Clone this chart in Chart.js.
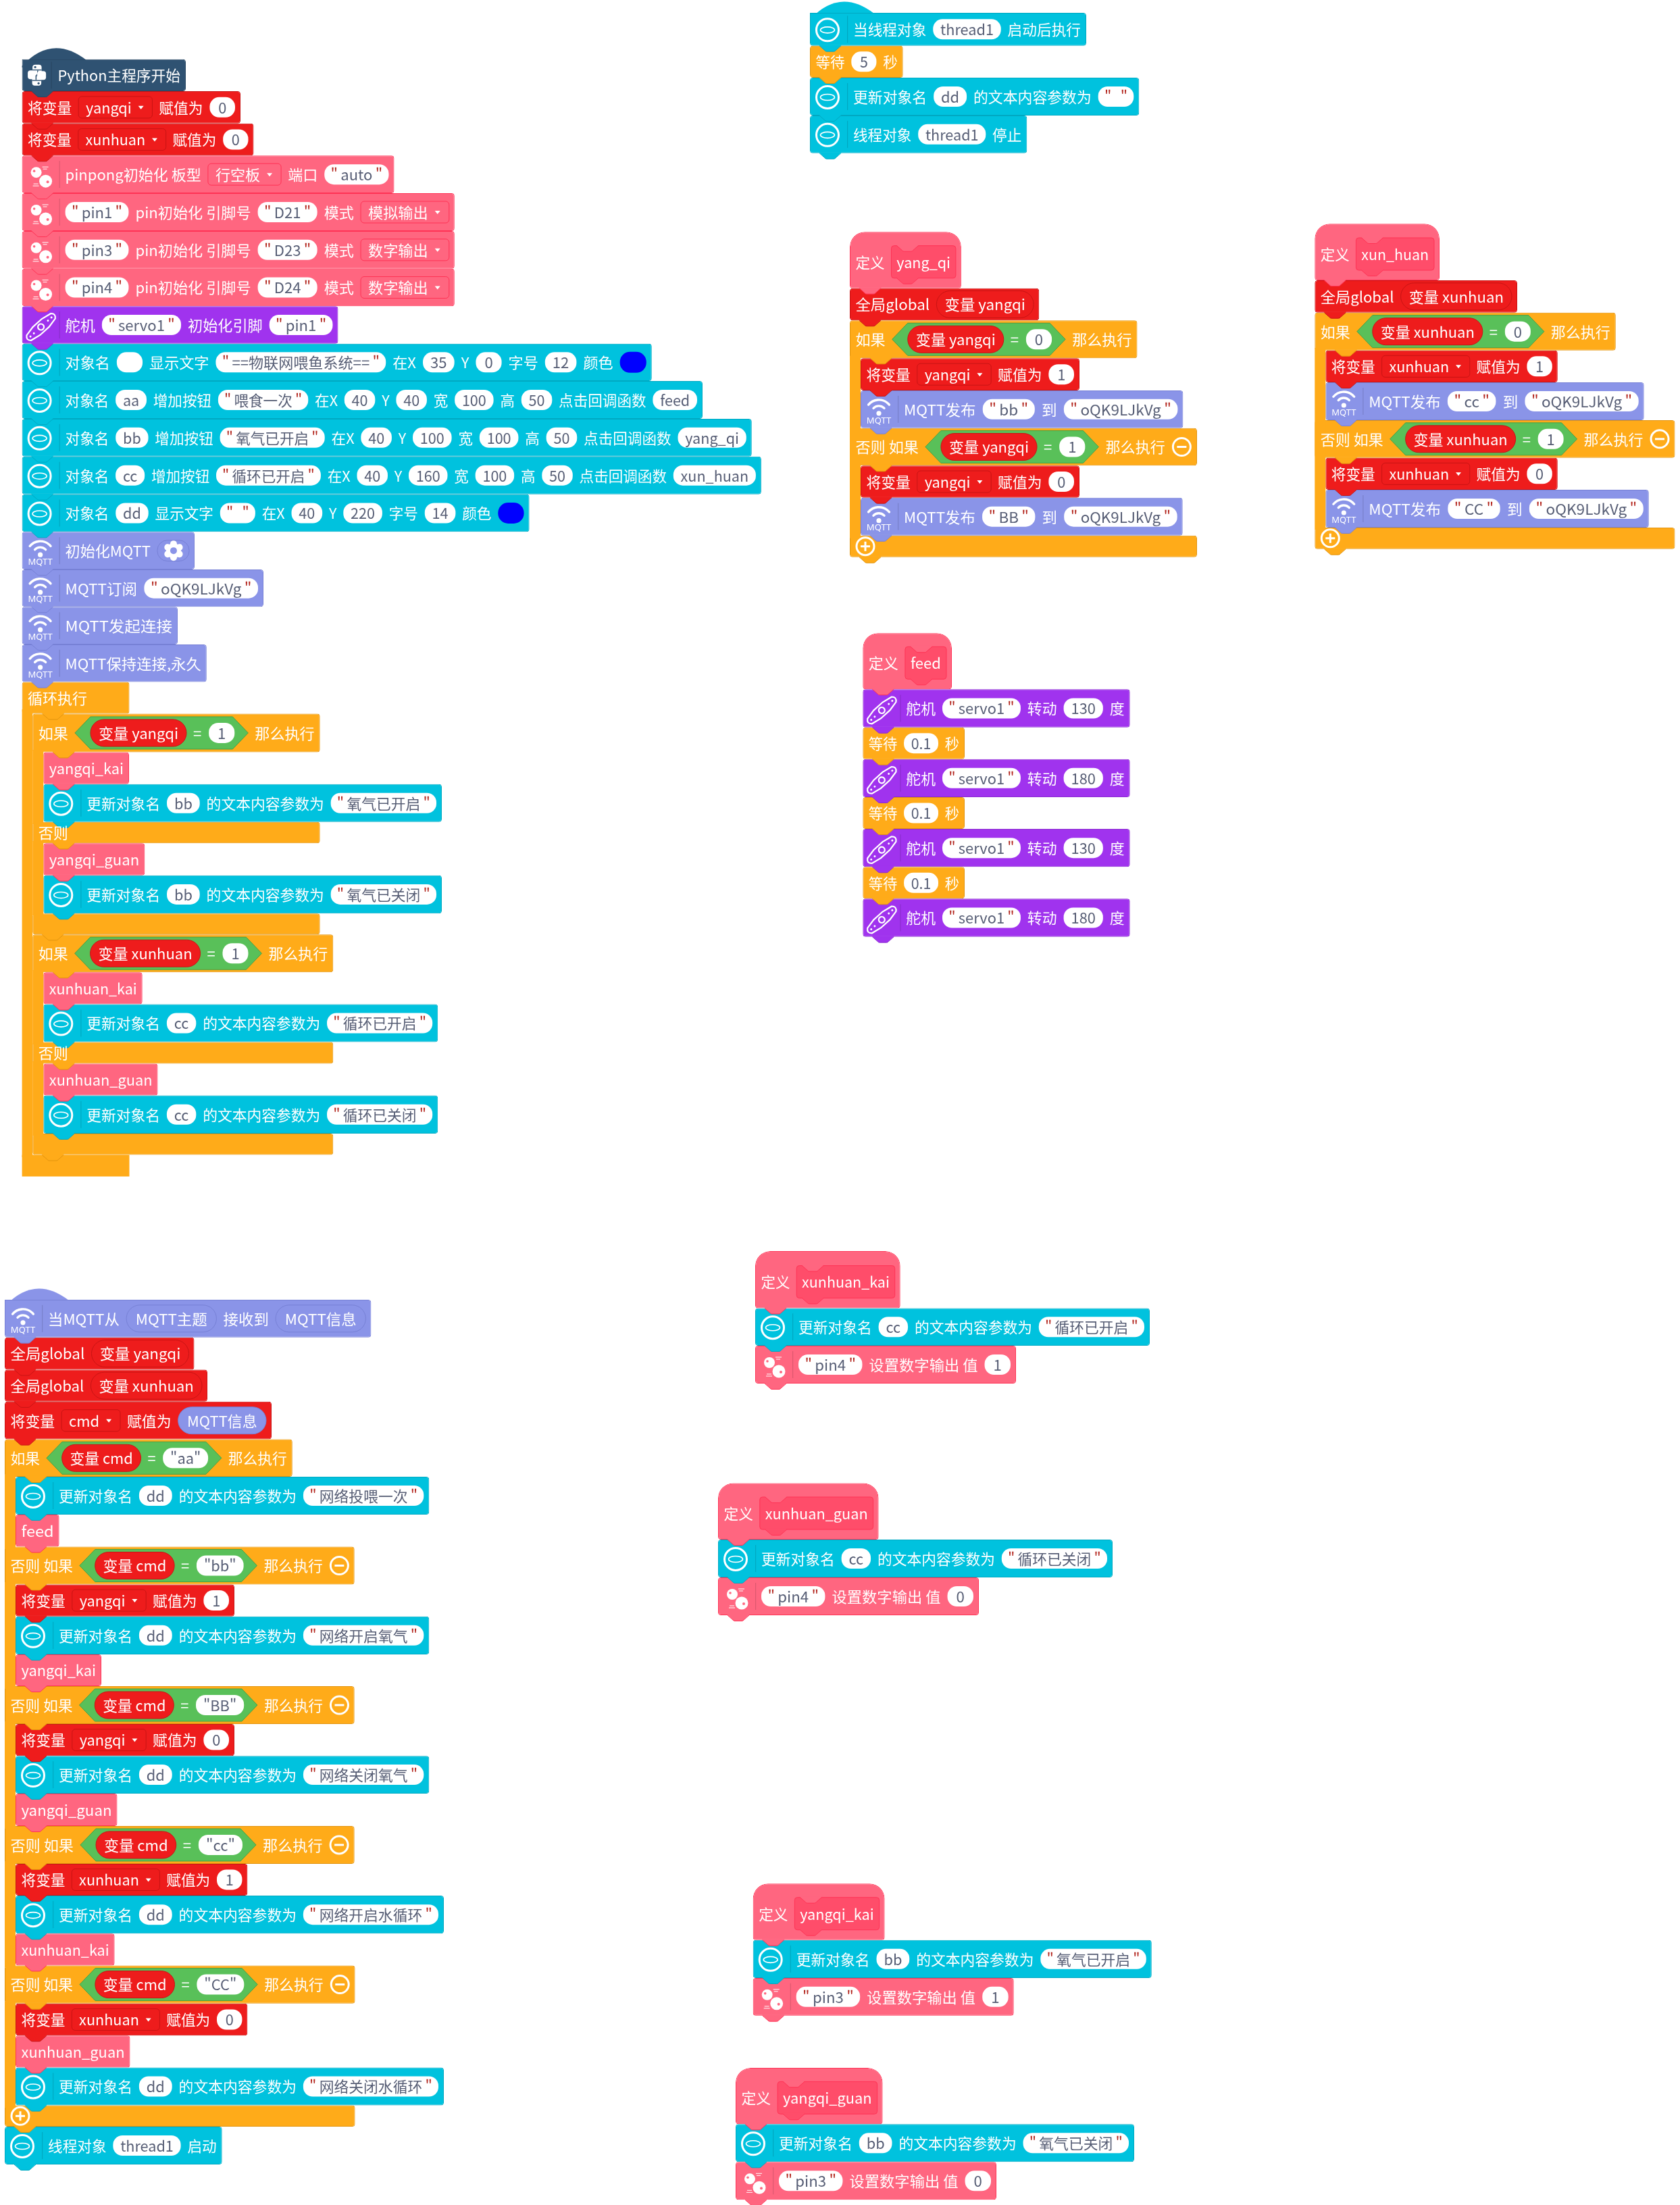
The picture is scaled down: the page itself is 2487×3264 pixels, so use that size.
<!DOCTYPE html>
<html lang="zh">
<head>
<meta charset="utf-8">
<title>Blocks</title>
<script src="https://cdn.jsdelivr.net/npm/chart.js@4/dist/chart.umd.min.js"></script>
<style>
  html, body { margin: 0; padding: 0; background: #fff; }
  canvas { display: block; }
</style>
</head>
<body>
<canvas id="blocksChart" width="2487" height="3264"></canvas>
<script>
// ===== DATA: one entry per block, stack by stack =====
const blockKinds = [
  // main program
  'python','red','red','pink','pink','pink','pink','purple','cyan','cyan','cyan','cyan','cyan','mqtt','mqtt','mqtt','mqtt',
  'open','control','pink','cyan','open','pink','cyan','open','control','pink','cyan','open','pink','cyan','open','arm',
  'arm','arm','arm','arm','arm',
  // thread
  'cyanHat','control','cyan','cyan',
  // yang_qi
  'define','red','control','red','mqtt','control','red','mqtt','open','arm',
  // xun_huan
  'define','red','control','red','mqtt','control','red','mqtt','open','arm',
  // feed
  'define','purple','control','purple','control','purple','control','purple',
  // mqtt callback
  'mqttHat','red','red','red','control','cyan','pink','control','red','cyan','pink','control','red','cyan','pink',
  'control','red','cyan','pink','control','red','pink','cyan','open','cyan','arm','arm','arm','arm','arm',
  // xunhuan_kai, xunhuan_guan, yangqi_kai, yangqi_guan
  'define','cyan','pink','define','cyan','pink','define','cyan','pink','define','cyan','pink'
];

const blockLabels = [
  '#|Python主程序开始',
  '将变量|[yangqi]|赋值为|(0)',
  '将变量|[xunhuan]|赋值为|(0)',
  '#|pinpong初始化 板型|[行空板]|端口|("auto")',
  '#|("pin1")|pin初始化 引脚号|("D21")|模式|[模拟输出]',
  '#|("pin3")|pin初始化 引脚号|("D23")|模式|[数字输出]',
  '#|("pin4")|pin初始化 引脚号|("D24")|模式|[数字输出]',
  '#|舵机|("servo1")|初始化引脚|("pin1")',
  '#|对象名|()|显示文字|("==物联网喂鱼系统==")|在X|(35)|Y|(0)|字号|(12)|颜色|%',
  '#|对象名|(aa)|增加按钮|("喂食一次")|在X|(40)|Y|(40)|宽|(100)|高|(50)|点击回调函数|(feed)',
  '#|对象名|(bb)|增加按钮|("氧气已开启")|在X|(40)|Y|(100)|宽|(100)|高|(50)|点击回调函数|(yang_qi)',
  '#|对象名|(cc)|增加按钮|("循环已开启")|在X|(40)|Y|(160)|宽|(100)|高|(50)|点击回调函数|(xun_huan)',
  '#|对象名|(dd)|显示文字|(" ")|在X|(40)|Y|(220)|字号|(14)|颜色|%',
  '#|初始化MQTT|*',
  '#|MQTT订阅|("oQK9LJkVg")',
  '#|MQTT发起连接',
  '#|MQTT保持连接,永久',
  '循环执行',
  '如果|{yangqi=1}|那么执行',
  'yangqi_kai',
  '#|更新对象名|(bb)|的文本内容参数为|("氧气已开启")',
  '否则',
  'yangqi_guan',
  '#|更新对象名|(bb)|的文本内容参数为|("氧气已关闭")',
  '',
  '如果|{xunhuan=1}|那么执行',
  'xunhuan_kai',
  '#|更新对象名|(cc)|的文本内容参数为|("循环已开启")',
  '否则',
  'xunhuan_guan',
  '#|更新对象名|(cc)|的文本内容参数为|("循环已关闭")',
  '',
  '',
  '','','','','',

  '#|当线程对象|(thread1)|启动后执行',
  '等待|(5)|秒',
  '#|更新对象名|(dd)|的文本内容参数为|(" ")',
  '#|线程对象|(thread1)|停止',

  '定义|^yang_qi',
  '全局global|<变量 yangqi>',
  '如果|{yangqi=0}|那么执行',
  '将变量|[yangqi]|赋值为|(1)',
  '#|MQTT发布|("bb")|到|("oQK9LJkVg")',
  '否则 如果|{yangqi=1}|那么执行|-',
  '将变量|[yangqi]|赋值为|(0)',
  '#|MQTT发布|("BB")|到|("oQK9LJkVg")',
  '+',
  '',

  '定义|^xun_huan',
  '全局global|<变量 xunhuan>',
  '如果|{xunhuan=0}|那么执行',
  '将变量|[xunhuan]|赋值为|(1)',
  '#|MQTT发布|("cc")|到|("oQK9LJkVg")',
  '否则 如果|{xunhuan=1}|那么执行|-',
  '将变量|[xunhuan]|赋值为|(0)',
  '#|MQTT发布|("CC")|到|("oQK9LJkVg")',
  '+',
  '',

  '定义|^feed',
  '#|舵机|("servo1")|转动|(130)|度',
  '等待|(0.1)|秒',
  '#|舵机|("servo1")|转动|(180)|度',
  '等待|(0.1)|秒',
  '#|舵机|("servo1")|转动|(130)|度',
  '等待|(0.1)|秒',
  '#|舵机|("servo1")|转动|(180)|度',

  '#|当MQTT从|@MQTT主题|接收到|@MQTT信息',
  '全局global|<变量 yangqi>',
  '全局global|<变量 xunhuan>',
  '将变量|[cmd]|赋值为|@MQTT信息',
  '如果|{cmd="aa"}|那么执行',
  '#|更新对象名|(dd)|的文本内容参数为|("网络投喂一次")',
  'feed',
  '否则 如果|{cmd="bb"}|那么执行|-',
  '将变量|[yangqi]|赋值为|(1)',
  '#|更新对象名|(dd)|的文本内容参数为|("网络开启氧气")',
  'yangqi_kai',
  '否则 如果|{cmd="BB"}|那么执行|-',
  '将变量|[yangqi]|赋值为|(0)',
  '#|更新对象名|(dd)|的文本内容参数为|("网络关闭氧气")',
  'yangqi_guan',
  '否则 如果|{cmd="cc"}|那么执行|-',
  '将变量|[xunhuan]|赋值为|(1)',
  '#|更新对象名|(dd)|的文本内容参数为|("网络开启水循环")',
  'xunhuan_kai',
  '否则 如果|{cmd="CC"}|那么执行|-',
  '将变量|[xunhuan]|赋值为|(0)',
  'xunhuan_guan',
  '#|更新对象名|(dd)|的文本内容参数为|("网络关闭水循环")',
  '+',
  '#|线程对象|(thread1)|启动',
  '','','','','',

  '定义|^xunhuan_kai',
  '#|更新对象名|(cc)|的文本内容参数为|("循环已开启")',
  '#|("pin4")|设置数字输出 值|(1)',
  '定义|^xunhuan_guan',
  '#|更新对象名|(cc)|的文本内容参数为|("循环已关闭")',
  '#|("pin4")|设置数字输出 值|(0)',
  '定义|^yangqi_kai',
  '#|更新对象名|(bb)|的文本内容参数为|("氧气已开启")',
  '#|("pin3")|设置数字输出 值|(1)',
  '定义|^yangqi_guan',
  '#|更新对象名|(bb)|的文本内容参数为|("氧气已关闭")',
  '#|("pin3")|设置数字输出 值|(0)'
];

const blockLeft = [
  32.6,32.6,32.6,32.6,32.6,32.6,32.6,32.6,32.6,32.6,32.6,32.6,32.6,32.6,32.6,32.6,32.6,
  32.6,48.2,64.3,64.3,48.2,64.3,64.3,48.2,48.2,64.3,64.3,48.2,64.3,64.3,48.2,32.6,
  32.6,48.2,48.2,48.2,48.2,
  1199,1199,1199,1199,
  1258,1258,1258,1274,1274,1258,1274,1274,1258,1258,
  1946.3,1946.3,1946.3,1962.3,1962.3,1946.3,1962.3,1962.3,1946.3,1946.3,
  1277.3,1277.3,1277.3,1277.3,1277.3,1277.3,1277.3,1277.3,
  7,7,7,7,7,23,23,7,23,23,23,7,23,23,23,7,23,23,23,7,23,23,23,7,7,7,7,7,7,7,
  1118,1118,1118,1063,1063,1063,1114.7,1114.7,1114.7,1089,1089,1089
];

const blockRight = [
  275,356,375.5,583.5,672.8,672.8,672.8,500.5,964.8,1040,1112.8,1126.9,783.6,288,390,263,305.8,
  191.5,473.7,191,654,473.7,214.3,654,473.7,493.3,210.7,648.2,493.3,233.5,648.2,493.3,191.5,
  48.2,64.3,64.3,64.3,64.3,
  1608,1336.7,1686.3,1520.3,
  1422.9,1538.2,1683.5,1598,1751.4,1772,1598,1750.7,1772,1274,
  2131,2246,2391.8,2305.8,2433.7,2479.5,2305.8,2440.8,2479.5,1962.3,
  1409,1672.7,1428,1672.7,1428,1672.7,1428,1672.7,
  549.4,287.5,307,402,432.8,635.3,87.6,524.7,347,635.3,150,524.7,347,635.3,173.5,524.7,366.4,657,169.6,525.6,366.4,192.5,657,525.6,328.7,23,23,23,23,23,
  1332.7,1702,1504,1300.6,1647,1449,1309.6,1704.8,1500.7,1306.6,1679,1475
];

const blockTop = [
  87.7,135,182.7,230.3,286,342,397.7,453.3,508.7,564,620,675.7,731.7,787.3,843,898.3,954,
  1009.6,1056.5,1113.4,1160.8,1216.7,1248.3,1295.7,1352.2,1383.3,1439.2,1486.6,1542.6,1574.6,1621.5,1678,1709.6,
  1050,1110,1245,1436,1571,
  19,67.7,115,171,
  343.3,426.7,474.3,530.3,578,633.7,689.3,736.7,792.7,527,
  331.3,415,462.7,518.7,566,622,677.7,725,781,515,
  937.3,1020.3,1076.7,1123.7,1180,1227,1283.3,1330.3,
  1924,1979.7,2027.5,2074.8,2130.6,2186,2242,2289.6,2345.4,2392.7,2449,2496,2552,2599.2,2655,2703,2758.9,2806,2862.3,2909.4,2965.7,3013.3,3060.4,3116.6,3148,
  2183,2342,2549,2756,2963,
  1852,1936.5,1992,2195.5,2279,2335,2788.3,2871.7,2928,3061,3144.3,3200.3
];

const blockBottom = [
  135,182.7,230.3,286,342,397.7,453.3,508.7,564,620,675.7,731.7,787.3,843,898.3,954,1009.6,
  1056.5,1113.4,1160.8,1216.7,1248.3,1295.7,1352.2,1383.3,1439.2,1486.6,1542.6,1574.6,1621.5,1678,1709.6,1741.6,
  1713,1220,1355,1546,1681,
  67.7,115,171,226.7,
  426.7,474.3,530.3,578,633.7,689.3,736.7,792.7,824.7,796,
  415,462.7,518.7,566,622,677.7,725,781,812.7,784,
  1020.3,1076.7,1123.7,1180,1227,1283.3,1330.3,1386.7,
  1979.7,2027.5,2074.8,2130.6,2186,2242,2289.6,2345.4,2392.7,2449,2496,2552,2599.2,2655,2703,2758.9,2806,2862.3,2909.4,2965.7,3013.3,3060.4,3116.6,3148,3204,
  2293,2499,2706,2912,3120,
  1936.5,1992,2048,2279,2335,2391,2871.7,2928,2983.7,3144.3,3200.3,3256.3
];

// ===== COLOURS =====
const palette = {
  python:  { fill: '#2F5272', line: '#2a4863' },
  red:     { fill: '#EE1C1C', line: '#C81414' },
  pink:    { fill: '#FF6680', line: '#FF3355' },
  define:  { fill: '#FF6680', line: '#FF3355' },
  purple:  { fill: '#A033EE', line: '#8A2BD0' },
  cyan:    { fill: '#00C2DE', line: '#00A9C2' },
  cyanHat: { fill: '#00C2DE', line: '#00A9C2' },
  mqtt:    { fill: '#8A94E8', line: '#7781D6' },
  mqttHat: { fill: '#8A94E8', line: '#7781D6' },
  control: { fill: '#FFAB19', line: '#E2940F' },
  open:    { fill: '#FFAB19', line: '#E2940F' },
  arm:     { fill: '#FFAB19', line: '#FFAB19' }
};
const PILL_TEXT = '#575E75';
const FONT = '22px "Noto Sans CJK SC", "Noto Sans", sans-serif';
const SEG_GAP = 10;

function fitsToWidth(kind) { return kind !== 'open' && kind !== 'arm'; }
function hasHatArc(kind) { return kind === 'python' || kind === 'cyanHat' || kind === 'mqttHat'; }

function centerY(i) {
  if (blockKinds[i] === 'define') return blockBottom[i] - 39;
  return (blockTop[i] + blockBottom[i]) / 2;
}

// ===== SEGMENT WIDTHS =====
function quotedParts(inner) {
  return inner.length > 1 && inner[0] === '"' ? inner.slice(1, -1) : null;
}

function boolParts(seg) {
  const body = seg.slice(1, -1);
  const at = body.indexOf('=');
  return { name: '变量 ' + body.slice(0, at), value: body.slice(at + 1) };
}

function pillWidth(ctx, inner) {
  const q = quotedParts(inner);
  if (q !== null) return 48 + (q.trim() ? ctx.measureText(q).width : 5);
  if (inner === '') return 38;
  return Math.max(38, ctx.measureText(inner).width + 22);
}

function segWidth(ctx, seg) {
  const c = seg[0];
  const inner = seg.slice(1, -1);
  if (c === '(') return pillWidth(ctx, inner);
  if (c === '[') return ctx.measureText(inner).width + 42;
  if (c === '<') return ctx.measureText(inner).width + 24;
  if (c === '@') return ctx.measureText(seg.slice(1)).width + 27;
  if (c === '^') return ctx.measureText(seg.slice(1)).width + 16;
  if (c === '{') {
    const b = boolParts(seg);
    return 23 + ctx.measureText(b.name).width + 24 + 10 + 13 + 10 +
      Math.max(38, ctx.measureText(b.value).width + 22) + 20;
  }
  if (seg === '%') return 39;
  if (seg === '-' || seg === '+') return 29;
  if (seg === '*') return 47;
  return ctx.measureText(seg).width;
}

// ===== SMALL DRAW HELPERS =====
function rr(ctx, x, y, w, h, r, fill, stroke) {
  ctx.beginPath();
  ctx.roundRect(x, y, w, h, r);
  if (fill) { ctx.fillStyle = fill; ctx.fill(); }
  if (stroke) { ctx.strokeStyle = stroke; ctx.lineWidth = 1; ctx.stroke(); }
}

function label(ctx, text, x, cy, sx, color) {
  ctx.save();
  ctx.translate(x, cy + 0.5);
  ctx.scale(sx, 1);
  ctx.fillStyle = color;
  ctx.fillText(text, 0, 0);
  ctx.restore();
}

function drawTab(ctx, x, y, fill, line) {
  ctx.beginPath();
  ctx.moveTo(x + 13, y - 1.5);
  ctx.lineTo(x + 22, y + 7);
  ctx.quadraticCurveTo(x + 23, y + 8.5, x + 25, y + 8.5);
  ctx.lineTo(x + 35, y + 8.5);
  ctx.quadraticCurveTo(x + 37, y + 8.5, x + 38, y + 7);
  ctx.lineTo(x + 47, y - 1.5);
  ctx.closePath();
  ctx.fillStyle = fill;
  ctx.fill();
  ctx.beginPath();
  ctx.moveTo(x + 14, y);
  ctx.lineTo(x + 22, y + 7);
  ctx.quadraticCurveTo(x + 23, y + 8.5, x + 25, y + 8.5);
  ctx.lineTo(x + 35, y + 8.5);
  ctx.quadraticCurveTo(x + 37, y + 8.5, x + 38, y + 7);
  ctx.lineTo(x + 46, y);
  ctx.strokeStyle = line;
  ctx.lineWidth = 1;
  ctx.stroke();
}

function drawIcon(ctx, kind, x0, cy) {
  ctx.save();
  ctx.strokeStyle = '#fff';
  ctx.fillStyle = '#fff';
  const bg = palette[kind].fill;
  if (kind === 'python') {
    ctx.translate(x0 + 22, cy);
    for (let k = 0; k < 2; k++) {
      ctx.beginPath();
      ctx.roundRect(-6.5, -15.5, 13.5, 14, 4);
      ctx.fill();
      ctx.beginPath();
      ctx.roundRect(-13.5, -7, 13, 13, 4);
      ctx.fill();
      ctx.fillStyle = bg;
      ctx.fillRect(-6.5, -8.5, 13.5, 1.4);
      ctx.fillRect(0.5, -7, 1.5, 7);
      ctx.beginPath();
      ctx.arc(-2.5, -12, 1.6, 0, Math.PI * 2);
      ctx.fill();
      ctx.fillStyle = '#fff';
      ctx.rotate(Math.PI);
    }
  } else if (kind === 'cyan' || kind === 'cyanHat') {
    ctx.translate(x0 + 26, cy + 1);
    ctx.lineWidth = 3;
    ctx.beginPath();
    ctx.arc(0, 0, 16.5, 0, Math.PI * 2);
    ctx.stroke();
    ctx.lineWidth = 1.6;
    ctx.beginPath();
    ctx.ellipse(0, 0, 10.5, 4.5, 0, 0, Math.PI * 2);
    ctx.stroke();
  } else if (kind === 'pink') {
    ctx.translate(x0 + 21, cy - 3);
    ctx.beginPath();
    ctx.arc(0, 0, 8, 0, Math.PI * 2);
    ctx.fill();
    ctx.beginPath();
    ctx.arc(14, 13, 9.5, 0, Math.PI * 2);
    ctx.strokeStyle = bg;
    ctx.lineWidth = 2;
    ctx.stroke();
    ctx.fill();
    ctx.fillStyle = bg;
    ctx.beginPath();
    ctx.arc(-3, -2, 1.8, 0, Math.PI * 2);
    ctx.fill();
    ctx.beginPath();
    ctx.arc(17, 14, 2, 0, Math.PI * 2);
    ctx.fill();
    ctx.strokeStyle = '#fff';
    ctx.lineWidth = 1;
    ctx.beginPath();
    ctx.moveTo(9, -8); ctx.lineTo(18, -8);
    ctx.moveTo(10, -5); ctx.lineTo(16, -5);
    ctx.moveTo(-4, 17); ctx.lineTo(3, 17);
    ctx.moveTo(-5, 20); ctx.lineTo(4, 20);
    ctx.stroke();
  } else if (kind === 'purple') {
    ctx.translate(x0 + 28, cy + 3);
    ctx.rotate(-Math.PI / 4 + 0.05);
    ctx.lineWidth = 2.2;
    ctx.beginPath();
    ctx.moveTo(-24, -5);
    ctx.quadraticCurveTo(-30, 0, -24, 5);
    ctx.lineTo(-9, 8);
    ctx.lineTo(9, 8);
    ctx.lineTo(24, 5);
    ctx.quadraticCurveTo(30, 0, 24, -5);
    ctx.lineTo(9, -8);
    ctx.lineTo(-9, -8);
    ctx.closePath();
    ctx.stroke();
    ctx.beginPath();
    ctx.arc(0, 0, 4.5, 0, Math.PI * 2);
    ctx.stroke();
    [-21, -14, 14, 21].forEach(function (hx) {
      ctx.beginPath();
      ctx.arc(hx, 0, 1.5, 0, Math.PI * 2);
      ctx.fill();
    });
  } else {
    ctx.translate(x0 + 27, cy);
    ctx.lineWidth = 3.4;
    ctx.lineCap = 'round';
    ctx.beginPath();
    ctx.arc(0, 6, 20, -Math.PI * 0.78, -Math.PI * 0.22);
    ctx.stroke();
    ctx.beginPath();
    ctx.arc(0, 6, 11, -Math.PI * 0.76, -Math.PI * 0.24);
    ctx.stroke();
    ctx.beginPath();
    ctx.arc(0, 6, 3.6, 0, Math.PI * 2);
    ctx.fill();
    ctx.font = '13px "Noto Sans", sans-serif';
    ctx.textAlign = 'center';
    ctx.fillText('MQTT', 0, 17, 40);
  }
  ctx.restore();
}

function drawGear(ctx, x, w, cy, pal) {
  rr(ctx, x, cy - 15.5, w, 31, 15, pal.fill, pal.line);
  ctx.save();
  ctx.translate(x + w / 2 + 0.5, cy);
  ctx.fillStyle = '#fff';
  for (let k = 0; k < 6; k++) {
    ctx.beginPath();
    ctx.arc(0, -10, 5, 0, Math.PI * 2);
    ctx.fill();
    ctx.rotate(Math.PI / 3);
  }
  ctx.beginPath();
  ctx.arc(0, 0, 11, 0, Math.PI * 2);
  ctx.fill();
  ctx.fillStyle = pal.fill;
  ctx.beginPath();
  ctx.arc(0, 0, 5, 0, Math.PI * 2);
  ctx.fill();
  ctx.restore();
}

function drawPill(ctx, inner, x, w, cy, sx) {
  rr(ctx, x, cy - 15, w, 30, 14, '#fff');
  const q = quotedParts(inner);
  if (q !== null) {
    let px = x + 11 * sx;
    const qw = ctx.measureText('"').width;
    label(ctx, '"', px + (7 - qw) * sx / 2, cy, sx, '#B3261E');
    px += 13 * sx;
    const tw = q.trim() ? ctx.measureText(q).width : 5;
    if (q.trim()) label(ctx, q, px, cy, sx, PILL_TEXT);
    px += (tw + 6) * sx;
    label(ctx, '"', px + (7 - qw) * sx / 2, cy, sx, '#B3261E');
  } else if (inner) {
    const tw = ctx.measureText(inner).width * sx;
    label(ctx, inner, x + (w - tw) / 2, cy, sx, PILL_TEXT);
  }
}

function drawBool(ctx, seg, x, w, cy, sx) {
  const b = boolParts(seg);
  ctx.beginPath();
  ctx.moveTo(x, cy);
  ctx.lineTo(x + 23, cy - 24);
  ctx.lineTo(x + w - 23, cy - 24);
  ctx.lineTo(x + w, cy);
  ctx.lineTo(x + w - 23, cy + 24);
  ctx.lineTo(x + 23, cy + 24);
  ctx.closePath();
  ctx.fillStyle = '#59C059';
  ctx.fill();
  ctx.strokeStyle = '#46A046';
  ctx.lineWidth = 1;
  ctx.stroke();
  let px = x + 23 * sx;
  const nw = (ctx.measureText(b.name).width + 24) * sx;
  rr(ctx, px, cy - 20, nw, 40, 20, palette.red.fill, palette.red.line);
  label(ctx, b.name, px + 12 * sx, cy, sx, '#fff');
  px += nw + 10 * sx;
  label(ctx, '=', px, cy, sx, '#fff');
  px += 23 * sx;
  const vw = Math.max(38, ctx.measureText(b.value).width + 22) * sx;
  // the compared value keeps its quotes in the plain pill colour
  rr(ctx, px, cy - 15, vw, 30, 14, '#fff');
  const tw = ctx.measureText(b.value).width * sx;
  label(ctx, b.value, px + (vw - tw) / 2, cy, sx, PILL_TEXT);
}

function drawSegment(ctx, seg, x, w, cy, sx, pal) {
  const c = seg[0];
  const inner = seg.slice(1, -1);
  if (c === '(') {
    drawPill(ctx, inner, x, w, cy, sx);
  } else if (c === '[') {
    rr(ctx, x, cy - 16, w, 32, 5, pal.fill, pal.line);
    label(ctx, inner, x + 11 * sx, cy, sx, '#fff');
    const tx = x + w - 17 * sx;
    ctx.beginPath();
    ctx.moveTo(tx - 4, cy - 2);
    ctx.lineTo(tx + 4, cy - 2);
    ctx.lineTo(tx, cy + 3);
    ctx.closePath();
    ctx.fillStyle = '#fff';
    ctx.fill();
  } else if (c === '<') {
    rr(ctx, x, cy - 20, w, 40, 20, pal.fill, pal.line);
    label(ctx, inner, x + 12 * sx, cy, sx, '#fff');
  } else if (c === '@') {
    rr(ctx, x, cy - 20, w, 40, 20, palette.mqtt.fill, palette.mqtt.line);
    label(ctx, seg.slice(1), x + 13.5 * sx, cy, sx, '#fff');
  } else if (c === '^') {
    rr(ctx, x, cy - 24, w, 48, 4, '#FF4D6A', '#FF3355');
    drawTab(ctx, x - 6, cy + 24, '#FF4D6A', '#FF3355');
    drawTab(ctx, x - 6, cy - 24, pal.fill, '#FF3355');
    label(ctx, seg.slice(1), x + 8 * sx, cy, sx, '#fff');
  } else if (c === '{') {
    drawBool(ctx, seg, x, w, cy, sx);
  } else if (seg === '%') {
    rr(ctx, x, cy - 15.5, w, 31, 15, '#0000FF');
  } else if (seg === '-' || seg === '+') {
    const mx = x + 14.5, r = 13;
    ctx.beginPath();
    ctx.arc(mx, cy, r, 0, Math.PI * 2);
    ctx.fillStyle = pal.fill;
    ctx.fill();
    ctx.strokeStyle = '#fff';
    ctx.lineWidth = 3;
    ctx.stroke();
    ctx.beginPath();
    ctx.moveTo(mx - 7, cy);
    ctx.lineTo(mx + 7, cy);
    if (seg === '+') { ctx.moveTo(mx, cy - 7); ctx.lineTo(mx, cy + 7); }
    ctx.stroke();
  } else if (seg === '*') {
    drawGear(ctx, x, w, cy, pal);
  } else {
    label(ctx, seg, x, cy, sx, '#fff');
  }
}

// ===== PLUGIN: hats, tabs and the text of each block, placed through the scales =====
const blockDecor = {
  id: 'blockDecor',
  beforeDatasetsDraw(chart) {
    const ctx = chart.ctx;
    const xs = chart.scales.x, ys = chart.scales.y;
    ctx.save();
    blockKinds.forEach(function (kind, i) {
      if (!hasHatArc(kind)) return;
      const x0 = xs.getPixelForValue(blockLeft[i]);
      const yt = ys.getPixelForValue(blockTop[i]);
      ctx.beginPath();
      ctx.moveTo(x0, yt + 10);
      ctx.quadraticCurveTo(x0 + 44, yt - 38, x0 + 95, yt + 1);
      ctx.lineTo(x0 + 95, yt + 12);
      ctx.lineTo(x0, yt + 12);
      ctx.closePath();
      ctx.fillStyle = palette[kind].fill;
      ctx.fill();
    });
    ctx.restore();
  },
  afterDatasetsDraw(chart) {
    const ctx = chart.ctx;
    const xs = chart.scales.x, ys = chart.scales.y;
    ctx.save();
    ctx.font = FONT;
    ctx.textBaseline = 'middle';
    ctx.textAlign = 'left';

    // tabs first, so the pills and text stay on top
    blockKinds.forEach(function (kind, i) {
      if (kind === 'arm') return;
      const text = blockLabels[i];
      const inner = /^(如果|否则|循环)/.test(text);
      const x = xs.getPixelForValue(blockLeft[i]) + (inner ? 16 : 0);
      drawTab(ctx, x, ys.getPixelForValue(blockBottom[i]), palette[kind].fill, palette[kind].line);
    });

    blockKinds.forEach(function (kind, i) {
      const text = blockLabels[i];
      if (!text) return;
      const x0 = xs.getPixelForValue(blockLeft[i]);
      const x1 = xs.getPixelForValue(blockRight[i]);
      const cy = ys.getPixelForValue(centerY(i));
      let segs = text.split('|');
      let start = x0 + 8.5;
      if (segs[0] === '#') {
        segs = segs.slice(1);
        const sep = kind === 'python' ? 43 : 55;
        start = x0 + (kind === 'python' ? 53 : 64);
        drawIcon(ctx, kind, x0, cy);
        ctx.fillStyle = 'rgba(0,0,0,0.13)';
        ctx.fillRect(x0 + sep, cy - 20, 1.2, 40);
      }
      const widths = segs.map(function (s) { return segWidth(ctx, s); });
      const natural = widths.reduce(function (a, b) { return a + b; }, 0) + SEG_GAP * (segs.length - 1);
      const sx = fitsToWidth(kind) ? (x1 - 8 - start) / natural : 1;
      let px = start;
      segs.forEach(function (s, k) {
        const w = widths[k] * sx;
        drawSegment(ctx, s, px, w, cy, sx, palette[kind]);
        px += w + SEG_GAP * sx;
      });
    });
    ctx.restore();
  }
};

// ===== CHART =====
function cornerRadius(kind) {
  if (kind === 'define') return { topLeft: 22, topRight: 22, bottomLeft: 4, bottomRight: 4 };
  if (hasHatArc(kind)) return { topLeft: 0, topRight: 4, bottomLeft: 4, bottomRight: 4 };
  if (kind === 'arm') return 0;
  return 4;
}

const blockDatasets = blockKinds.map(function (kind, i) {
  return {
    data: [{ x: [blockLeft[i], blockRight[i]], y: (blockTop[i] + blockBottom[i]) / 2 }],
    barThickness: blockBottom[i] - blockTop[i],
    grouped: false,
    order: -i,
    backgroundColor: palette[kind].fill,
    borderColor: palette[kind].line,
    borderWidth: kind === 'arm' ? 0 : 1,
    borderSkipped: false,
    borderRadius: cornerRadius(kind),
    inflateAmount: 0
  };
});

new Chart(document.getElementById('blocksChart').getContext('2d'), {
  type: 'bar',
  data: { datasets: blockDatasets },
  plugins: [blockDecor],
  options: {
    indexAxis: 'y',
    responsive: false,
    devicePixelRatio: 1,
    animation: false,
    events: [],
    layout: { padding: 0 },
    plugins: { legend: { display: false }, tooltip: { enabled: false }, title: { display: false } },
    scales: {
      x: { type: 'linear', min: 0, max: 2487, offset: false, display: false },
      y: { type: 'linear', min: 0, max: 3264, offset: false, reverse: true, display: false }
    }
  }
});
</script>
</body>
</html>
